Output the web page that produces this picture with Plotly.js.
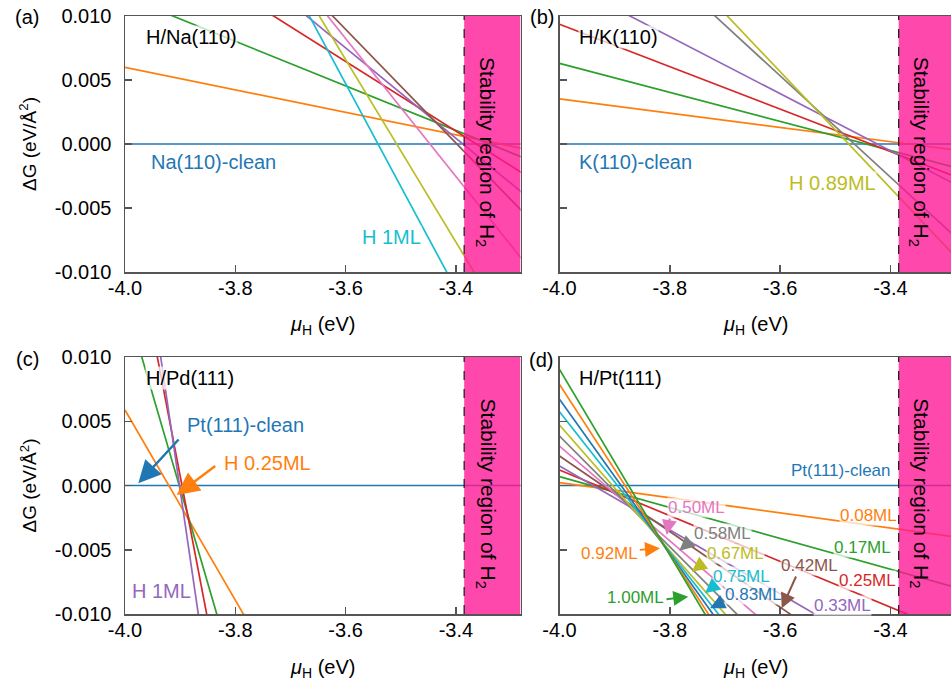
<!DOCTYPE html>
<html>
<head>
<meta charset="utf-8">
<script src="https://cdn.plot.ly/plotly-3.0.1.min.js"></script>
<style>html,body{margin:0;padding:0;background:#fff;}#chart{width:951px;height:688px;}</style>
</head>
<body>
<div id="chart"></div>
<script>
// ---------------- data ----------------
// chemical potential endpoints (eV) at which every straight line is sampled
const MU = [-4.0, -3.2];
// H2 stability boundary (eV)
const MU_H2 = -3.385;

// (a) H/Na(110): ΔG (eV/Å²) at μ=-4.0 and μ=-3.2
const naNames = ['Na(110)-clean', 'H a2', 'H a3', 'H a4', 'H a5', 'H a6', 'H a7', 'H a8', 'H 1ML'];
const naStart = [0, 0.00599, 0.01151, 0.01733, 0.02163, 0.02672, 0.0298, 0.03512, 0.03684];
const naEnd   = [0, -0.00105, -0.00242, -0.00443, -0.00661, -0.00880, -0.01332, -0.02192, -0.0274];

// (b) H/K(110)
const kNames = ['K(110)-clean', 'H b2', 'H b3', 'H b4', 'H b5', 'H b6', 'H 0.89ML'];
const kStart = [0, 0.00352, 0.0063, 0.00935, 0.01285, 0.02117, 0.02383];
const kEnd   = [0, -0.00093, -0.00278, -0.0039, -0.00499, -0.01051, -0.01253];

// (c) H/Pd(111)
const pdNames = ['Pd(111)-clean', 'H 0.25ML', 'H c3', 'H c4', 'H 1ML'];
const pdStart = [0, 0.00588, 0.01446, 0.0231, 0.02898];
const pdEnd   = [0, -0.05332, -0.10314, -0.1557, -0.20566];

// (d) H/Pt(111)
const ptNames = ['Pt(111)-clean', '0.08ML', '0.17ML', '0.25ML', '0.33ML', '0.42ML', '0.50ML',
                 '0.58ML', '0.67ML', '0.75ML', '0.83ML', '0.92ML', '1.00ML'];
const ptStart = [0, 0.00022, 0.00069, 0.00121, 0.00152, 0.00230, 0.00307,
                 0.00385, 0.00471, 0.00574, 0.00671, 0.00787, 0.00904];
const ptEnd   = [0, -0.00449, -0.00892, -0.01303, -0.01838, -0.02124, -0.02643,
                 -0.03063, -0.03449, -0.03798, -0.04137, -0.04509, -0.04872];

// ticks
const xTickVals = [-4.0, -3.8, -3.6, -3.4];
const xTickText = ['-4.0', '-3.8', '-3.6', '-3.4'];
const yTickVals = [0.01, 0.005, 0, -0.005, -0.01];
const yTickText = ['0.010', '0.005', '0.000', '-0.005', '-0.010'];

// ---------------- styles ----------------
const C = {blue:'#1f77b4', orange:'#ff7f0e', green:'#2ca02c', red:'#d62728', purple:'#9467bd',
           brown:'#8c564b', pink:'#e377c2', gray:'#7f7f7f', olive:'#bcbd22', cyan:'#17becf'};
const naColors = [C.blue, C.orange, C.green, C.red, C.purple, C.brown, C.pink, C.olive, C.cyan];
const kColors  = [C.blue, C.orange, C.green, C.red, C.purple, C.gray, C.olive];
const pdColors = [C.blue, C.orange, C.green, C.red, C.purple];
const ptColors = [C.blue, C.orange, C.green, C.red, C.purple, C.brown, C.pink, C.gray, C.olive, C.cyan, C.blue, C.orange, C.green];

const FONT = 'Arial, "Liberation Sans", Helvetica, sans-serif';
const LW = 1.7;

const traces = [];
function addPanel(names, ys0, ys1, colors, xa, ya) {
  for (let i = 0; i < names.length; i++) {
    traces.push({x: MU, y: [ys0[i], ys1[i]], name: names[i], xaxis: xa, yaxis: ya,
                 mode: 'lines', line: {color: colors[i], width: LW}, hoverinfo: 'skip'});
  }
}
addPanel(naNames, naStart, naEnd, naColors, 'x', 'y');
addPanel(kNames, kStart, kEnd, kColors, 'x2', 'y2');
addPanel(pdNames, pdStart, pdEnd, pdColors, 'x3', 'y3');
addPanel(ptNames, ptStart, ptEnd, ptColors, 'x4', 'y4');

const W = 951, H = 688;
const leftDom = [125 / W, 520.5 / W];
const rightDom = [559.5 / W, 1.0];
const topDom = [1 - 272 / H, 1 - 16 / H];
const botDom = [1 - 614 / H, 1 - 357 / H];
const leftMax = -4.0 + 395.5 / 551.5;
const rightMax = -4.0 + 391.5 / 551.5;

function xax(dom, max, anchor) {
  return {domain: dom, range: [-4.0, max], anchor: anchor, showgrid: false, zeroline: false,
          showline: true, linecolor: '#555', linewidth: 1.5, mirror: true,
          ticks: 'inside', ticklen: 7, tickwidth: 1.5, tickcolor: '#555',
          tickmode: 'array', tickvals: xTickVals, ticktext: xTickText,
          tickfont: {family: FONT, size: 20, color: '#000'}, ticklabelstandoff: -3, fixedrange: true};
}
function yax(dom, anchor, labels, mirror) {
  return {domain: dom, range: [-0.01, 0.01], anchor: anchor, showgrid: false, zeroline: false,
          showline: true, linecolor: '#555', linewidth: 1.5, mirror: mirror,
          ticks: 'inside', ticklen: 7, tickwidth: 1.5, tickcolor: '#555',
          tickmode: 'array', tickvals: yTickVals, ticktext: yTickText, showticklabels: labels,
          tickfont: {family: FONT, size: 20, color: '#000'}, ticklabelstandoff: 8, fixedrange: true};
}

const shapes = [];
[['x','y',leftMax],['x2','y2',rightMax],['x3','y3',leftMax],['x4','y4',rightMax]].forEach(p => {
  shapes.push({type: 'rect', xref: p[0], yref: p[1], x0: MU_H2, x1: p[2], y0: -0.01, y1: 0.01,
               fillcolor: 'rgba(255,20,147,0.78)', line: {width: 0}, layer: 'above'});
  shapes.push({type: 'line', xref: p[0], yref: p[1], x0: MU_H2, x1: MU_H2, y0: -0.01, y1: 0.01,
               line: {color: '#222', width: 1.3, dash: 'dash'}, layer: 'above'});
});

const BG = 'rgba(255,255,255,0.72)';
const ann = [];
function txt(xr, yr, x, y, text, color, size, xanchor, extra) {
  ann.push(Object.assign({xref: xr, yref: yr, x: x, y: y, text: text, showarrow: false,
    font: {family: FONT, size: size, color: color}, xanchor: xanchor || 'center', yanchor: 'middle',
    bgcolor: BG, borderpad: 0}, extra || {}));
}
function arrow(xr, yr, x, y, ax, ay, color, w, s) {
  ann.push({xref: xr, yref: yr, axref: xr, ayref: yr, x: x, y: y, ax: ax, ay: ay, text: '',
    showarrow: true, arrowhead: 2, arrowsize: s, arrowwidth: w, arrowcolor: color, standoff: 0, startstandoff: 0});
}
// panel letters
txt('paper','paper', 27 / W, 1 - 17 / H, '(a)', '#000', 20, 'center', {bgcolor: 'rgba(0,0,0,0)'});
txt('paper','paper', 542 / W, 1 - 17 / H, '(b)', '#000', 20, 'center', {bgcolor: 'rgba(0,0,0,0)'});
txt('paper','paper', 27 / W, 1 - 359 / H, '(c)', '#000', 20, 'center', {bgcolor: 'rgba(0,0,0,0)'});
txt('paper','paper', 541 / W, 1 - 360 / H, '(d)', '#000', 20, 'center', {bgcolor: 'rgba(0,0,0,0)'});
// axis titles
[[322.5, 326], [755, 326], [322.5, 668], [755, 668]].forEach(p => {
  txt('paper','paper', p[0] / W, 1 - p[1] / H, '<i>μ</i><sub>H</sub> (eV)', '#000', 20, 'center', {bgcolor: 'rgba(0,0,0,0)'});
});
[144, 485.5].forEach(py => {
  txt('paper','paper', 28 / W, 1 - py / H, 'ΔG (eV/Å<sup>2</sup>)', '#000', 19, 'center', {bgcolor: 'rgba(0,0,0,0)', textangle: -90});
});
// stability text
[['x','y',-3.3442],['x2','y2',-3.3463],['x3','y3',-3.3442],['x4','y4',-3.3463]].forEach(p => {
  txt(p[0], p[1], p[2], -0.0006, 'Stability region of H<sub>2</sub>', '#000', 21, 'center', {bgcolor: 'rgba(0,0,0,0)', textangle: 90});
});
// (a)
txt('x','y', -3.9637, 0.00836, 'H/Na(110)', '#000', 20, 'left');
txt('x','y', -3.9547, -0.00137, 'Na(110)-clean', C.blue, 20, 'left', {bgcolor: 'rgba(0,0,0,0)'});
txt('x','y', -3.5159, -0.00727, 'H 1ML', C.cyan, 20, 'center');
// (b)
txt('x2','y2', -3.9665, 0.00836, 'H/K(110)', '#000', 20, 'left');
txt('x2','y2', -3.9665, -0.00137, 'K(110)-clean', C.blue, 20, 'left', {bgcolor: 'rgba(0,0,0,0)'});
txt('x2','y2', -3.5041, -0.00305, 'H 0.89ML', C.olive, 20, 'center');
// (c)
txt('x3','y3', -3.9637, 0.00833, 'H/Pd(111)', '#000', 20, 'left');
txt('x3','y3', -3.7824, 0.00471, 'Pt(111)-clean', C.blue, 20, 'center');
txt('x3','y3', -3.7425, 0.00175, 'H 0.25ML', C.orange, 20, 'center');
txt('x3','y3', -3.9347, -0.00821, 'H 1ML', C.purple, 20, 'center');
arrow('x3','y3', -3.9759, 0.000171, -3.9003, 0.003697, C.blue, 2.5, 1.8);
arrow('x3','y3', -3.9063, -0.000739, -3.8337, 0.001595, C.orange, 2.5, 1.8);
// (d)
txt('x4','y4', -3.9665, 0.00833, 'H/Pt(111)', '#000', 20, 'left');
txt('x4','y4', -3.4896, 0.00113, 'Pt(111)-clean', C.blue, 17, 'center');
const dLab = [
  ['0.08ML', C.orange, -3.4406, -0.00230], ['0.17ML', C.green, -3.4497, -0.00479],
  ['0.25ML', C.red, -3.4424, -0.00743], ['0.33ML', C.purple, -3.4860, -0.00930],
  ['0.42ML', C.brown, -3.5476, -0.00619], ['0.50ML', C.pink, -3.7507, -0.00175],
  ['0.58ML', C.gray, -3.7053, -0.00370], ['0.67ML', C.olive, -3.6800, -0.00533],
  ['0.75ML', C.cyan, -3.6691, -0.00712], ['0.83ML', C.blue, -3.6491, -0.00852],
  ['0.92ML', C.orange, -3.9102, -0.00533], ['1.00ML', C.green, -3.8613, -0.00875]];
dLab.forEach(d => txt('x4','y4', d[2], d[3], d[0], d[1], 17, 'center'));
const dArr = [
  [C.pink, -3.8056, -0.003852, -3.7996, -0.002451],
  [C.gray, -3.7828, -0.005074, -3.7603, -0.004241],
  [C.olive, -3.7603, -0.006708, -3.7362, -0.005930],
  [C.cyan, -3.7362, -0.008389, -3.7180, -0.007743],
  [C.blue, -3.7271, -0.009556, -3.7030, -0.009043],
  [C.brown, -3.5971, -0.009556, -3.5699, -0.006965],
  [C.orange, -3.8178, -0.004887, -3.8571, -0.005019],
  [C.green, -3.7665, -0.008653, -3.8087, -0.008856]];
dArr.forEach(a => arrow('x4','y4', a[1], a[2], a[3], a[4], a[0], 2, 1.5));

const layout = {
  width: W, height: H, margin: {l: 0, r: 0, t: 0, b: 0},
  paper_bgcolor: '#fff', plot_bgcolor: '#fff', showlegend: false,
  font: {family: FONT, color: '#000'},
  xaxis: xax(leftDom, leftMax, 'y'), yaxis: yax(topDom, 'x', true, true),
  xaxis2: xax(rightDom, rightMax, 'y2'), yaxis2: yax(topDom, 'x2', false, false),
  xaxis3: xax(leftDom, leftMax, 'y3'), yaxis3: yax(botDom, 'x3', true, true),
  xaxis4: xax(rightDom, rightMax, 'y4'), yaxis4: yax(botDom, 'x4', false, false),
  shapes: shapes, annotations: ann
};
Plotly.newPlot('chart', traces, layout, {staticPlot: true, displayModeBar: false});
</script>
</body>
</html>
